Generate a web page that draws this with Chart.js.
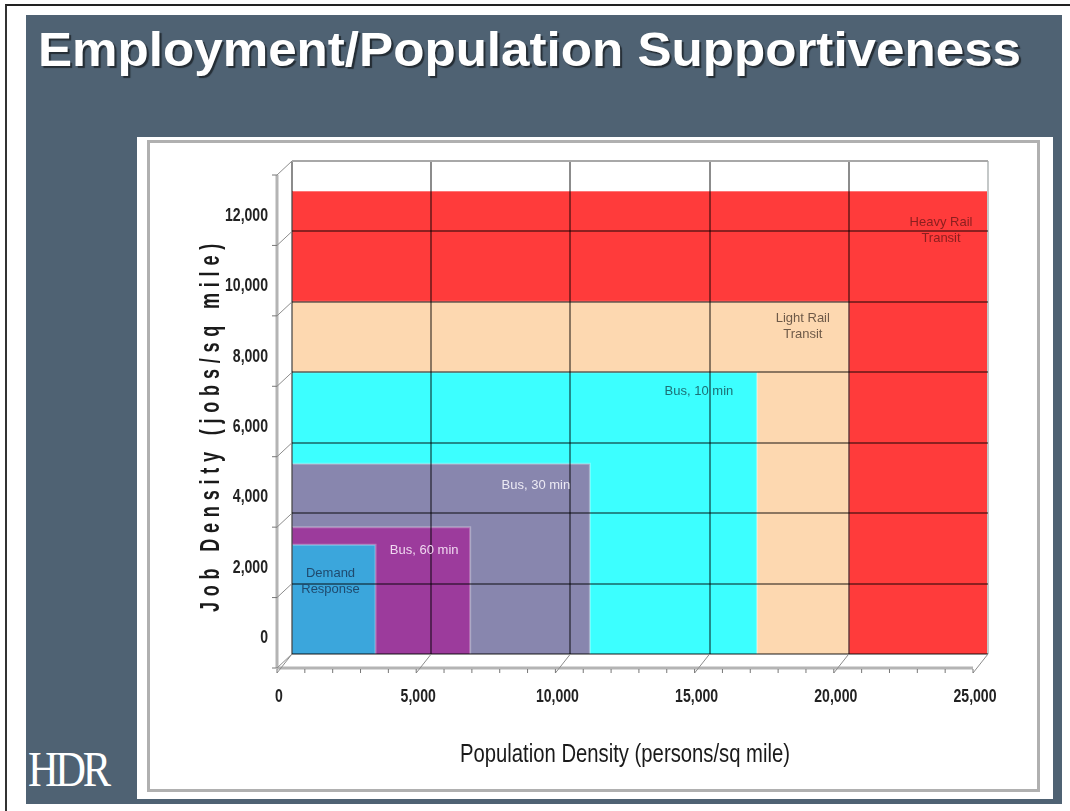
<!DOCTYPE html>
<html>
<head>
<meta charset="utf-8">
<script src="https://cdn.jsdelivr.net/npm/chart.js@4.4.1/dist/chart.umd.min.js"></script>
<style>
  html, body { margin: 0; padding: 0; background: #fff; }
  body { width: 1070px; height: 811px; position: relative; overflow: hidden; }
  #frame { position: absolute; left: 5px; top: 4px; width: 1070px; height: 811px;
           border-left: 2px solid #333; border-top: 2px solid #222; }
  #slate { position: absolute; left: 26px; top: 15px; width: 1036px; height: 789px; background: #4f6273; }
  #title { position: absolute; left: 38px; top: 25px; white-space: nowrap; transform-origin: 0 0;
           font: bold 49px "Liberation Sans", Arial, sans-serif; line-height: 49px;
           color: #fff; text-shadow: 2px 2px 1px rgba(0,0,0,0.55); }
  #logo { position: absolute; left: 28px; top: 744px; white-space: nowrap; transform-origin: 0 0;
          font: 50px "Liberation Serif", "DejaVu Serif", serif; line-height: 50px; color: #fff; letter-spacing: -4px; }
  #panel { position: absolute; left: 137px; top: 137px; width: 916px; height: 662px; background: #fff; }
  #inner { position: absolute; left: 147px; top: 140px; width: 887px; height: 646px;
           border: 3px solid #b0b0b0; background: #fff; }
  #chart { position: absolute; left: 0; top: 0; }
</style>
</head>
<body>
<div id="frame"></div>
<div id="slate"></div>
<div id="title">Employment/Population Supportiveness</div>
<div id="logo">HDR</div>
<div id="panel"></div>
<div id="inner"></div>
<canvas id="chart" width="1070" height="811"></canvas>
<script>
// transit modes, smallest envelope first (drawn on top)
const categories = [["Demand", "Response"], ["Bus, 60 min"], ["Bus, 30 min"], ["Bus, 10 min"],
                    ["Light Rail", "Transit"], ["Heavy Rail", "Transit"]];
// upper limits of each envelope
const popDensity = [3000, 6400, 10700, 16700, 20000, 25000];   // persons / sq mile
const jobDensity = [3100, 3600, 5400, 8000, 10000, 13150];     // jobs / sq mile

const xTickValues = [0, 5000, 10000, 15000, 20000, 25000];
const yTickValues = [0, 2000, 4000, 6000, 8000, 10000, 12000, 14000];

const xTitle = "Population Density (persons/sq mile)";
const yTitle = "Job Density (jobs/sq mile)";

const fills = ["#3ba6dc", "#9c3b9c", "#8886ae", "#3cffff", "#fdd8b0", "#ff3b3b"];
const textColors = ["#1f4a6e", "#f0d8f0", "#eceaf4", "#1d6f75", "#6e5a48", "#8a1f1f"];
// label placement relative to the top-right corner of each envelope: [inset, drop]
const labelPos = [[45, 29], [46, 23], [54, 22], [58, 19], [46, 17], [47, 31]];

const sans = '"Liberation Sans", Arial, sans-serif';
const DX = -15, DY = 14;   // depth of the 3d floor
const SQUEEZE = 0.74;      // narrow look of the axis text

// fit html texts to their widths
function fitWidth(id, w) {
    const el = document.getElementById(id);
    el.style.transform = "scaleX(" + (w / el.offsetWidth) + ")";
}
fitWidth("title", 983);
fitWidth("logo", 80);

// tick labels are placed by the scales, only drawn narrower
function narrowLabels(area) {
    const ctx = this.ctx;
    for (const item of this.getLabelItems(area)) {
        const o = item.options;
        ctx.save();
        ctx.translate(o.translation[0], o.translation[1]);
        ctx.scale(SQUEEZE, 1);
        ctx.font = item.font.string;
        ctx.fillStyle = o.color;
        ctx.textAlign = o.textAlign;
        ctx.textBaseline = o.textBaseline;
        ctx.fillText(item.label, 0, item.textOffset);
        ctx.restore();
    }
}

const depthPlugin = {
    id: "depth",
    beforeDraw(chart) {
        chart.scales.x.drawLabels = narrowLabels;
        chart.scales.y.drawLabels = narrowLabels;
    },
    afterDraw(chart) {
        const { ctx, chartArea } = chart;
        const xs = chart.scales.x, ys = chart.scales.y;
        const x0 = xs.getPixelForValue(0), y0 = ys.getPixelForValue(0);
        const xEnd = xs.getPixelForValue(xTickValues[xTickValues.length - 1]);
        const yTop = ys.getPixelForValue(yTickValues[yTickValues.length - 1]);
        const line = (a, b, c, d) => { ctx.beginPath(); ctx.moveTo(a, b); ctx.lineTo(c, d); ctx.stroke(); };
        ctx.save();
        // front axes
        ctx.strokeStyle = "#b4b4b4";
        ctx.lineWidth = 3;
        line(x0 + DX, y0 + DY, xEnd + DX, y0 + DY);
        line(x0 + DX, y0 + DY, x0 + DX, yTop + DY);
        // depth lines
        ctx.strokeStyle = "#8c8c8c";
        ctx.lineWidth = 1;
        xTickValues.forEach(v => line(xs.getPixelForValue(v) + DX, y0 + DY + 5, xs.getPixelForValue(v), y0));
        yTickValues.forEach(v => line(x0 + DX, ys.getPixelForValue(v) + DY, x0, ys.getPixelForValue(v)));
        // minor ticks
        ctx.strokeStyle = "#777";
        for (let v = 0; v <= 25000; v += 1000) {
            const px = xs.getPixelForValue(v) + DX;
            line(px, y0 + DY + 1, px, y0 + DY + 5);
        }
        yTickValues.forEach(v => line(x0 + DX - 5, ys.getPixelForValue(v) + DY, x0 + DX, ys.getPixelForValue(v) + DY));

        // envelope labels
        ctx.font = "13px " + sans;
        ctx.textAlign = "center";
        ctx.textBaseline = "middle";
        categories.forEach((lines, i) => {
            const cx = xs.getPixelForValue(popDensity[i]) - labelPos[i][0];
            const cy = ys.getPixelForValue(jobDensity[i]) + labelPos[i][1];
            ctx.fillStyle = textColors[i];
            lines.forEach((t, k) => ctx.fillText(t, cx, cy + k * 16));
        });

        // axis titles
        ctx.fillStyle = "#1a1a1a";
        ctx.save();
        ctx.translate((chartArea.left + chartArea.right) / 2 + DX, 755);
        ctx.font = "25px " + sans;
        ctx.scale(330 / ctx.measureText(xTitle).width, 1);
        ctx.fillText(xTitle, 0, 0);
        ctx.restore();

        ctx.translate(211, 425);
        ctx.rotate(-Math.PI / 2);
        ctx.font = "bold 28px " + sans;
        ctx.letterSpacing = "9px";
        ctx.scale(374 / ctx.measureText(yTitle).width, 1);
        ctx.fillText(yTitle, 0, 0);
        ctx.restore();
    }
};

const gridDark = "rgba(0,0,0,0.45)";

new Chart(document.getElementById("chart"), {
    type: "line",
    data: {
        datasets: categories.map((name, i) => ({
            label: name.join(" "),
            data: [
                { x: 0, y: 0 },
                { x: 0, y: jobDensity[i] },
                { x: popDensity[i], y: jobDensity[i] },
                { x: popDensity[i], y: 0 },
            ],
            fill: "origin",
            backgroundColor: fills[i],
            borderColor: "rgba(255,255,255,0.3)",
            borderWidth: 2,
            pointRadius: 0,
            tension: 0,
        })),
    },
    options: {
        responsive: false,
        animation: false,
        devicePixelRatio: 1,
        layout: { padding: { left: 150, right: 82, top: 161, bottom: 40 } },
        plugins: { legend: { display: false }, tooltip: { enabled: false } },
        scales: {
            x: {
                type: "linear",
                min: 0,
                max: 25000,
                afterBuildTicks: s => { s.ticks = xTickValues.map(v => ({ value: v })); },
                afterFit: s => { s.height = 117; },
                ticks: {
                    callback: v => v.toLocaleString("en-US"),
                    font: { family: sans, size: 19, weight: "bold" },
                    color: "#222",
                    padding: 31,
                    labelOffset: -13,
                    maxRotation: 0,
                },
                grid: {
                    z: 1,
                    drawTicks: false,
                    lineWidth: 2,
                    color: c => c.tick && c.tick.value === 25000 ? "#c4c8c8" : gridDark,
                },
                border: { display: false },
                title: { display: false, text: xTitle },
            },
            y: {
                min: 0,
                max: 14000,
                afterBuildTicks: s => { s.ticks = yTickValues.map(v => ({ value: v })); },
                afterFit: s => { s.width = 142; },
                ticks: {
                    callback: v => v === 14000 ? "" : v.toLocaleString("en-US"),
                    font: { family: sans, size: 19, weight: "bold" },
                    color: "#222",
                    padding: 24,
                    labelOffset: -16,
                },
                grid: {
                    z: 1,
                    drawTicks: false,
                    lineWidth: 2,
                    color: c => c.tick && c.tick.value === 14000 ? "#a8a8a8" : gridDark,
                },
                border: { display: false },
                title: { display: false, text: yTitle },
            },
        },
    },
    plugins: [depthPlugin],
});
</script>
</body>
</html>
